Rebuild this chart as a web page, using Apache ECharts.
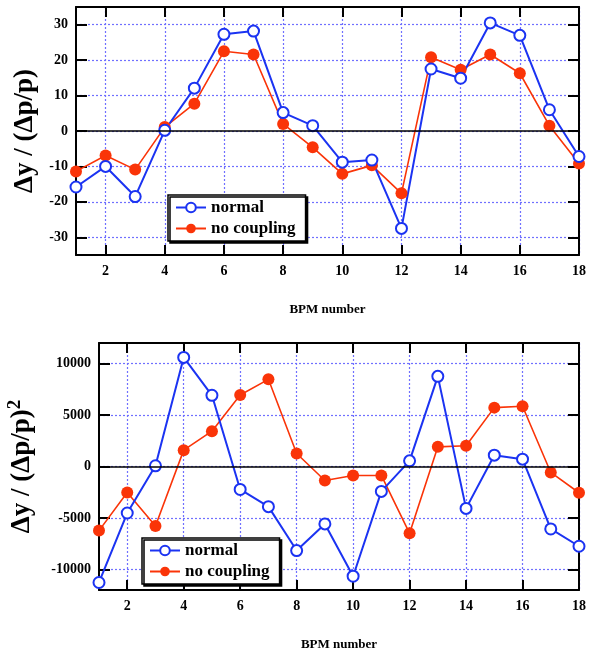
<!DOCTYPE html>
<html>
<head>
<meta charset="utf-8">
<script src="https://cdn.jsdelivr.net/npm/echarts@6/dist/echarts.min.js"></script>
<style>
  html, body { margin: 0; padding: 0; background: #fff; }
  #main { width: 594px; height: 654px; }
</style>
</head>
<body>
<div id="main"></div>
<script>
// BPM index on the x axis
var bpm = ['1','2','3','4','5','6','7','8','9','10','11','12','13','14','15','16','17','18'];

// top panel: dy / (dp/p)
var topNormal     = [-15.8, -10.0, -18.5, 0.2, 12.1, 27.3, 28.2, 5.2, 1.5, -8.8, -8.2, -27.5, 17.5, 14.9, 30.5, 27.0, 6.0, -7.2];
var topNoCoupling = [-11.4, -6.9, -10.9, 1.1, 7.7, 22.5, 21.6, 2.0, -4.6, -12.1, -9.7, -17.6, 20.8, 17.3, 21.6, 16.3, 1.5, -9.2];
var topTicks = [-30, -20, -10, 0, 10, 20, 30];

// bottom panel: dy / (dp/p)^2
var botNormal     = [-11270, -4520, 70, 10600, 6920, -2230, -3900, -8170, -5580, -10660, -2420, 550, 8760, -4070, 1100, 710, -6070, -7750];
var botNoCoupling = [-6230, -2520, -5780, 1590, 3430, 6950, 8470, 1260, -1360, -870, -870, -6490, 1910, 2010, 5720, 5850, -580, -2550];
var botTicks = [-10000, -5000, 0, 5000, 10000];

var FONT = 'Liberation Serif';
var BLUE = '#1b33f2';
var RED = '#fa3408';
var GRIDCOL = '#7070ff';

var myChart = echarts.init(document.getElementById('main'));

function even(i) { return i % 2 === 1; }

function xAxes(g) {
    return [{
        type: 'category', gridIndex: g, data: bpm, boundaryGap: false, position: 'bottom',
        axisLine: { onZero: false, lineStyle: { color: '#000', width: 2 } },
        axisTick: { inside: true, length: 10, interval: even, lineStyle: { color: '#000', width: 2 } },
        axisLabel: { interval: even, margin: 9, color: '#000', fontFamily: FONT, fontWeight: 'bold', fontSize: 14 },
        splitLine: { show: true, interval: even, lineStyle: { color: GRIDCOL, type: [2, 2], width: 1.2 } },
        name: 'BPM number', nameLocation: 'middle', nameGap: 48,
        nameTextStyle: { color: '#000', fontFamily: FONT, fontWeight: 'bold', fontSize: 13 }
    }, {
        type: 'category', gridIndex: g, data: bpm, boundaryGap: false, position: 'top',
        axisLine: { onZero: false, lineStyle: { color: '#000', width: 2 } },
        axisTick: { inside: true, length: 10, interval: even, lineStyle: { color: '#000', width: 2 } },
        axisLabel: { show: false },
        splitLine: { show: false }
    }];
}

function yAxes(g, min, max, ticks, name, gap, rich) {
    var base = {
        type: 'value', gridIndex: g, min: min, max: max,
        axisLine: { show: true, onZero: false, lineStyle: { color: '#000', width: 2 } },
        axisTick: { show: true, inside: true, length: 11, customValues: ticks, lineStyle: { color: '#000', width: 2 } }
    };
    var left = Object.assign({}, base, {
        position: 'left',
        axisLabel: {
            customValues: ticks, margin: 8, color: '#000', fontFamily: FONT, fontWeight: 'bold', fontSize: 14,
            formatter: function (v) { return String(v); }
        },
        splitLine: { show: true, lineStyle: { color: GRIDCOL, type: [2, 2], width: 1.2 } },
        name: name, nameLocation: 'middle', nameGap: gap,
        nameTextStyle: { color: '#000', fontFamily: FONT, fontWeight: 'bold', fontSize: 27, rich: rich }
    });
    var right = Object.assign({}, base, {
        position: 'right',
        axisLabel: { show: false },
        splitLine: { show: false }
    });
    return [left, right];
}

function legend(left, top) {
    return {
        left: left, top: top, orient: 'vertical',
        data: ['normal', 'no coupling'],
        itemWidth: 30, itemHeight: 12, itemGap: 4,
        padding: [4, 10, 4, 7],
        backgroundColor: '#fff', borderColor: '#000', borderWidth: 1.5, borderRadius: 0,
        shadowColor: '#000', shadowBlur: 0, shadowOffsetX: 2, shadowOffsetY: 2,
        textStyle: { color: '#000', fontFamily: FONT, fontWeight: 'bold', fontSize: 17 }
    };
}

function pair(g, normal, nocoup) {
    return [{
        name: 'no coupling', type: 'line', xAxisIndex: g * 2, yAxisIndex: g * 2, data: nocoup,
        symbol: 'circle', symbolSize: 12,
        itemStyle: { color: RED }, lineStyle: { color: RED, width: 1.6 },
        markLine: {
            silent: true, symbol: 'none', label: { show: false },
            lineStyle: { color: '#000', width: 1.5, type: 'solid' },
            data: [{ yAxis: 0 }]
        }
    }, {
        name: 'normal', type: 'line', xAxisIndex: g * 2, yAxisIndex: g * 2, data: normal,
        symbol: 'emptyCircle', symbolSize: 11,
        itemStyle: { color: BLUE, borderWidth: 1.6 }, lineStyle: { color: BLUE, width: 2 }
    }];
}

var option = {
    backgroundColor: '#fff',
    animation: false,
    grid: [
        { left: 76, top: 7, width: 503, height: 248, outerBoundsMode: 'none' },
        { left: 99, top: 343, width: 480, height: 247, outerBoundsMode: 'none' }
    ],
    xAxis: xAxes(0).concat(xAxes(1)),
    yAxis: yAxes(0, -35, 35, topTicks, 'Δy / (Δp/p)', 34).concat(
           yAxes(1, -12000, 12000, botTicks, '{m|Δy / (Δp/p)}{s|2}', 60, {
               m: { fontFamily: FONT, fontWeight: 'bold', fontSize: 27, color: '#000', lineHeight: 33 },
               s: { fontFamily: FONT, fontWeight: 'bold', fontSize: 19, color: '#000', verticalAlign: 'top', lineHeight: 33 }
           })),
    legend: [legend(168, 195), legend(142, 538)],
    series: pair(0, topNormal, topNoCoupling).concat(pair(1, botNormal, botNoCoupling))
};

myChart.setOption(option);
</script>
</body>
</html>
